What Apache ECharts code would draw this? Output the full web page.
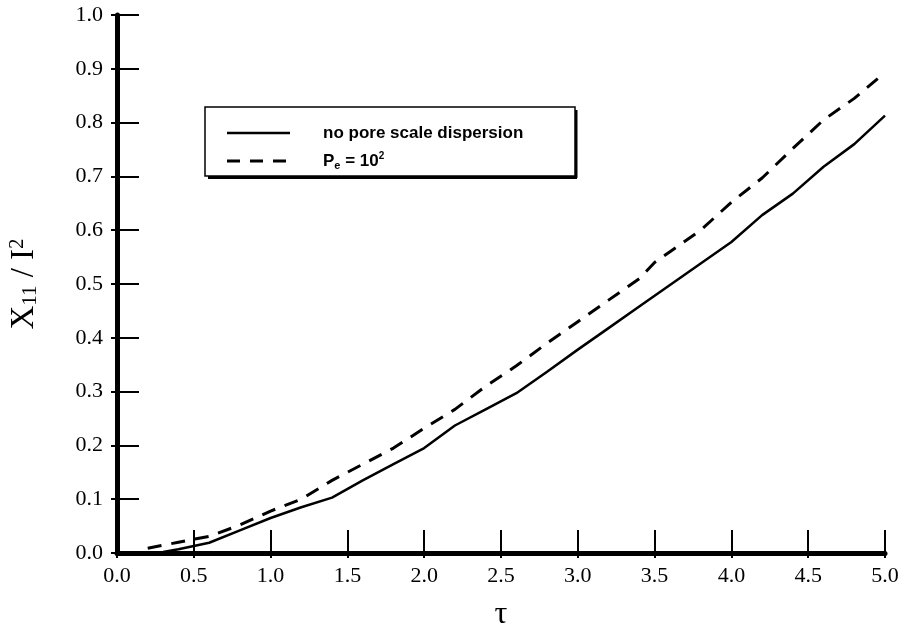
<!DOCTYPE html>
<html>
<head>
<meta charset="utf-8">
<script src="https://cdn.jsdelivr.net/npm/echarts@6/dist/echarts.min.js"></script>
<style>
  html, body { margin: 0; padding: 0; background: #fff; }
  #chart { width: 908px; height: 628px; }
</style>
</head>
<body>
<div id="chart"></div>
<script>
// tau values and X11/l^2
const tauSolid = [0, 0.2, 0.3, 0.4, 0.6, 0.8, 1.0, 1.2, 1.4, 1.6, 1.8, 2.0, 2.2, 2.4, 2.6, 2.8, 3.0, 3.2, 3.4, 3.6, 3.8, 4.0, 4.2, 4.4, 4.6, 4.8, 5.0];
const noPoreDispersion = [0, 0, 0.002, 0.007, 0.019, 0.042, 0.065, 0.085, 0.103, 0.135, 0.165, 0.195, 0.237, 0.267, 0.297, 0.337, 0.378, 0.418, 0.458, 0.498, 0.538, 0.578, 0.628, 0.668, 0.718, 0.76, 0.813];

const tauDashed = [0.2, 0.4, 0.6, 0.8, 1.0, 1.2, 1.4, 1.6, 1.8, 2.0, 2.2, 2.4, 2.6, 2.8, 3.0, 3.2, 3.4, 3.5, 3.6, 3.8, 4.0, 4.2, 4.4, 4.6, 4.8, 5.0];
const peclet100 = [0.009, 0.02, 0.031, 0.052, 0.078, 0.1, 0.135, 0.165, 0.195, 0.232, 0.267, 0.31, 0.348, 0.39, 0.43, 0.47, 0.51, 0.54, 0.56, 0.6, 0.652, 0.697, 0.752, 0.805, 0.845, 0.893];

const serif = "'Liberation Serif', 'DejaVu Serif', serif";
const sans = "'Liberation Sans', Arial, sans-serif";

const pairs = (xs, ys) => xs.map((x, i) => [x, ys[i]]);

const chart = echarts.init(document.getElementById("chart"), null, { renderer: "canvas" });

const option = {
  animation: false,
  backgroundColor: "#fff",
  grid: { left: 117, right: 23, top: 15, bottom: 75, containLabel: false, outerBoundsMode: "none" },
  xAxis: [
    {
      type: "value",
      min: 0,
      max: 5,
      interval: 0.5,
      name: "τ",
      nameLocation: "middle",
      nameGap: 46,
      nameTextStyle: { fontFamily: serif, fontSize: 32, color: "#000" },
      axisLine: { show: true, onZero: false, lineStyle: { color: "#000", width: 5 } },
      axisTick: { show: true, inside: true, length: 23, lineStyle: { color: "#000", width: 2 } },
      axisLabel: {
        margin: 12,
        fontFamily: serif,
        fontSize: 22,
        color: "#000",
        formatter: (v) => v.toFixed(1),
      },
      splitLine: { show: false },
    },
    {
      // short outer part of the crossing ticks
      type: "value",
      position: "bottom",
      min: 0,
      max: 5,
      interval: 0.5,
      axisLine: { show: false },
      axisTick: { show: true, inside: false, length: 5, lineStyle: { color: "#000", width: 2 } },
      axisLabel: { show: false },
      splitLine: { show: false },
    },
  ],
  yAxis: [
    {
      type: "value",
      min: 0,
      max: 1,
      interval: 0.1,
      name: "X{sub|11} / I{sup|2}",
      nameLocation: "middle",
      nameRotate: 90,
      nameGap: 76,
      nameTextStyle: {
        fontFamily: serif,
        fontSize: 33,
        color: "#000",
        rich: {
          sub: { fontFamily: serif, fontSize: 21, color: "#000", verticalAlign: "bottom", padding: [13, 0, 0, 0] },
          sup: { fontFamily: serif, fontSize: 21, color: "#000", verticalAlign: "top", padding: [0, 0, 13, 0] },
        },
      },
      axisLine: { show: true, onZero: false, lineStyle: { color: "#000", width: 5 } },
      axisTick: { show: true, inside: true, length: 22, lineStyle: { color: "#000", width: 2 } },
      axisLabel: {
        margin: 14,
        fontFamily: serif,
        fontSize: 22,
        color: "#000",
        formatter: (v) => v.toFixed(1),
      },
      splitLine: { show: false },
    },
    {
      type: "value",
      position: "left",
      min: 0,
      max: 1,
      interval: 0.1,
      axisLine: { show: false },
      axisTick: { show: true, inside: false, length: 6, lineStyle: { color: "#000", width: 2 } },
      axisLabel: { show: false },
      splitLine: { show: false },
    },
  ],
  series: [
    {
      name: "no pore scale dispersion",
      type: "line",
      data: pairs(tauSolid, noPoreDispersion),
      symbol: "none",
      lineStyle: { color: "#000", width: 2.5 },
      z: 3,
    },
    {
      name: "Pe = 10^2",
      type: "line",
      data: pairs(tauDashed, peclet100),
      symbol: "none",
      lineStyle: { color: "#000", width: 3, type: [14, 10] },
      z: 3,
    },
  ],
  graphic: [
    {
      type: "group",
      z: 10,
      children: [
        // shadow of the legend box
        { type: "line", shape: { x1: 208, y1: 177.5, x2: 577, y2: 177.5 }, style: { stroke: "#000", lineWidth: 3 } },
        { type: "line", shape: { x1: 576, y1: 110, x2: 576, y2: 178 }, style: { stroke: "#000", lineWidth: 3 } },
        { type: "rect", shape: { x: 205, y: 107, width: 370, height: 69 }, style: { fill: "#fff", stroke: "#000", lineWidth: 1.5 } },
        { type: "line", shape: { x1: 227, y1: 133, x2: 290, y2: 133 }, style: { stroke: "#000", lineWidth: 2.5 } },
        { type: "line", shape: { x1: 227, y1: 161, x2: 290, y2: 161 }, style: { stroke: "#000", lineWidth: 3, lineDash: [13, 10] } },
        {
          type: "text",
          x: 323,
          y: 133,
          style: { text: "no pore scale dispersion", font: "bold 17px " + sans, fill: "#000", verticalAlign: "middle" },
        },
        {
          type: "text",
          x: 323,
          y: 161,
          style: {
            text: "P{sub|e} = 10{sup|2}",
            fontFamily: sans,
            fontWeight: "bold",
            fontSize: 17,
            fill: "#000",
            verticalAlign: "middle",
            rich: {
              sub: { fontFamily: sans, fontWeight: "bold", fontSize: 11, fill: "#000", verticalAlign: "bottom", padding: [9, 0, 0, 0] },
              sup: { fontFamily: sans, fontWeight: "bold", fontSize: 10, fill: "#000", verticalAlign: "top", padding: [0, 0, 8, 0] },
            },
          },
        },
      ],
    },
  ],
};

chart.setOption(option);
</script>
</body>
</html>
